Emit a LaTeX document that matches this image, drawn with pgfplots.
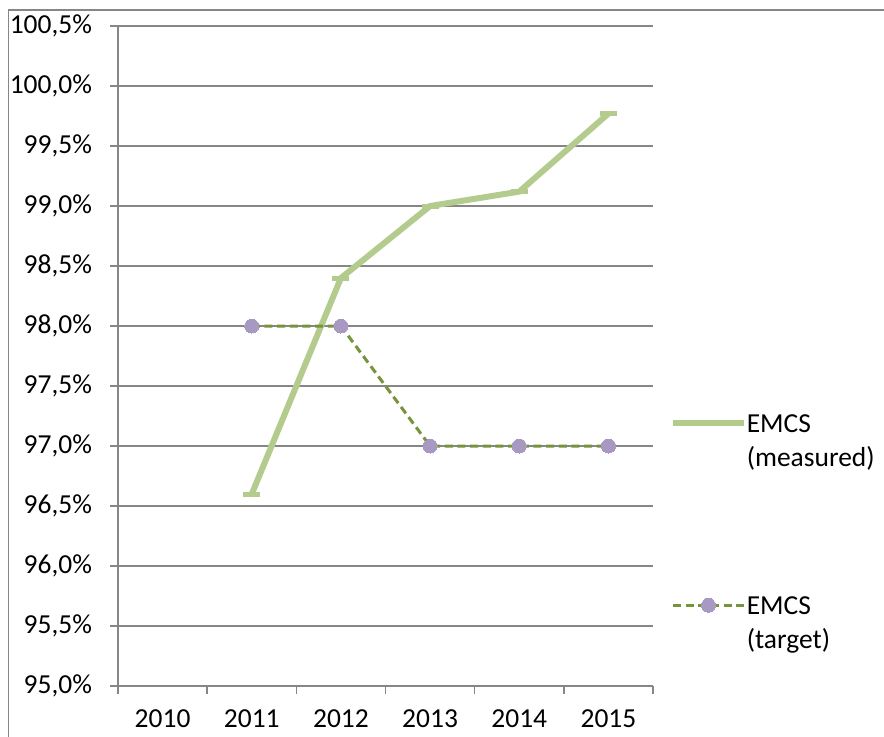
\documentclass[border=0pt]{standalone}
\usepackage{fontspec}
\setmainfont{Carlito}
\usepackage{pgfplots}
\pgfplotsset{compat=1.18}

\definecolor{measured}{RGB}{179,204,142}
\definecolor{targetline}{RGB}{119,147,60}
\definecolor{targetmark}{RGB}{168,153,194}
\definecolor{axisgray}{RGB}{134,134,134}

% legend symbols sit level with the first line of the two-line entries
\pgfplotsset{
  measured legend/.style={legend image code/.code={%
    \draw[measured, line width=4.5pt] (0pt,12.9pt) -- (53pt,12.9pt);}},
  target legend/.style={legend image code/.code={%
    \draw[mark repeat=2, mark phase=2, ##1] plot coordinates {(0pt,12.9pt) (26.5pt,12.9pt) (53pt,12.9pt)};}},
}

\begin{document}
\begin{tikzpicture}[font=\fontsize{20.6pt}{25pt}\selectfont]
\useasboundingbox (0,0) rectangle (663pt,-552pt);
% chart frame (runs past the right and bottom edges)
\draw[axisgray, line width=1.1pt] (6.4pt,-7.5pt) rectangle (720pt,-620pt);
\begin{axis}[
  at={(88.5pt,-514.5pt)}, anchor=south west,
  scale only axis, width=401.25pt, height=495pt,
  xmin=-0.5, xmax=5.5, ymin=95, ymax=100.5,
  axis x line=bottom, axis y line=left,
  axis line style={-, axisgray, line width=1.1pt},
  tick align=outside, major tick length=6pt,
  tick style={axisgray, line width=1.1pt},
  xtick={-0.5,0.5,1.5,2.5,3.5,4.5,5.5},
  x tick label as interval,
  xticklabels={2010,2011,2012,2013,2014,2015},
  xticklabel style={yshift=-8pt},
  ytick={95,95.5,96,96.5,97,97.5,98,98.5,99,99.5,100,100.5},
  /pgf/number format/assume math mode=true,
  yticklabel={\pgfmathprintnumber[fixed,fixed zerofill,precision=1,use comma]{\tick}\%},
  yticklabel style={xshift=-10pt},
  ymajorgrids,
  grid style={axisgray, line width=1.1pt},
  clip=false,
  legend cell align=left,
  legend style={draw=none, fill=none, inner sep=0pt, outer sep=0pt,
    at={(1.032,0.4106)}, anchor=north west, row sep=98pt,
    nodes={inner sep=0pt, align=left, text depth=0pt}},
]
% EMCS measured
\addplot[color=measured, line width=4.5pt,
  mark=-, mark size=6.4pt, mark options={line width=3.75pt, solid},
  measured legend]
  coordinates {(1,96.6) (2,98.4) (3,99.0) (4,99.12) (5,99.77)};
\addlegendentry{EMCS\\(measured)}
% EMCS target
\addplot[color=targetline, line width=2.25pt, dash pattern=on 6pt off 3.5pt,
  mark=*, mark size=5.25pt,
  mark options={solid, fill=targetmark, draw=targetmark, line width=0pt},
  target legend]
  coordinates {(1,98) (2,98) (3,97) (4,97) (5,97)};
\addlegendentry{EMCS\\(target)}
\end{axis}
\end{tikzpicture}
\end{document}
